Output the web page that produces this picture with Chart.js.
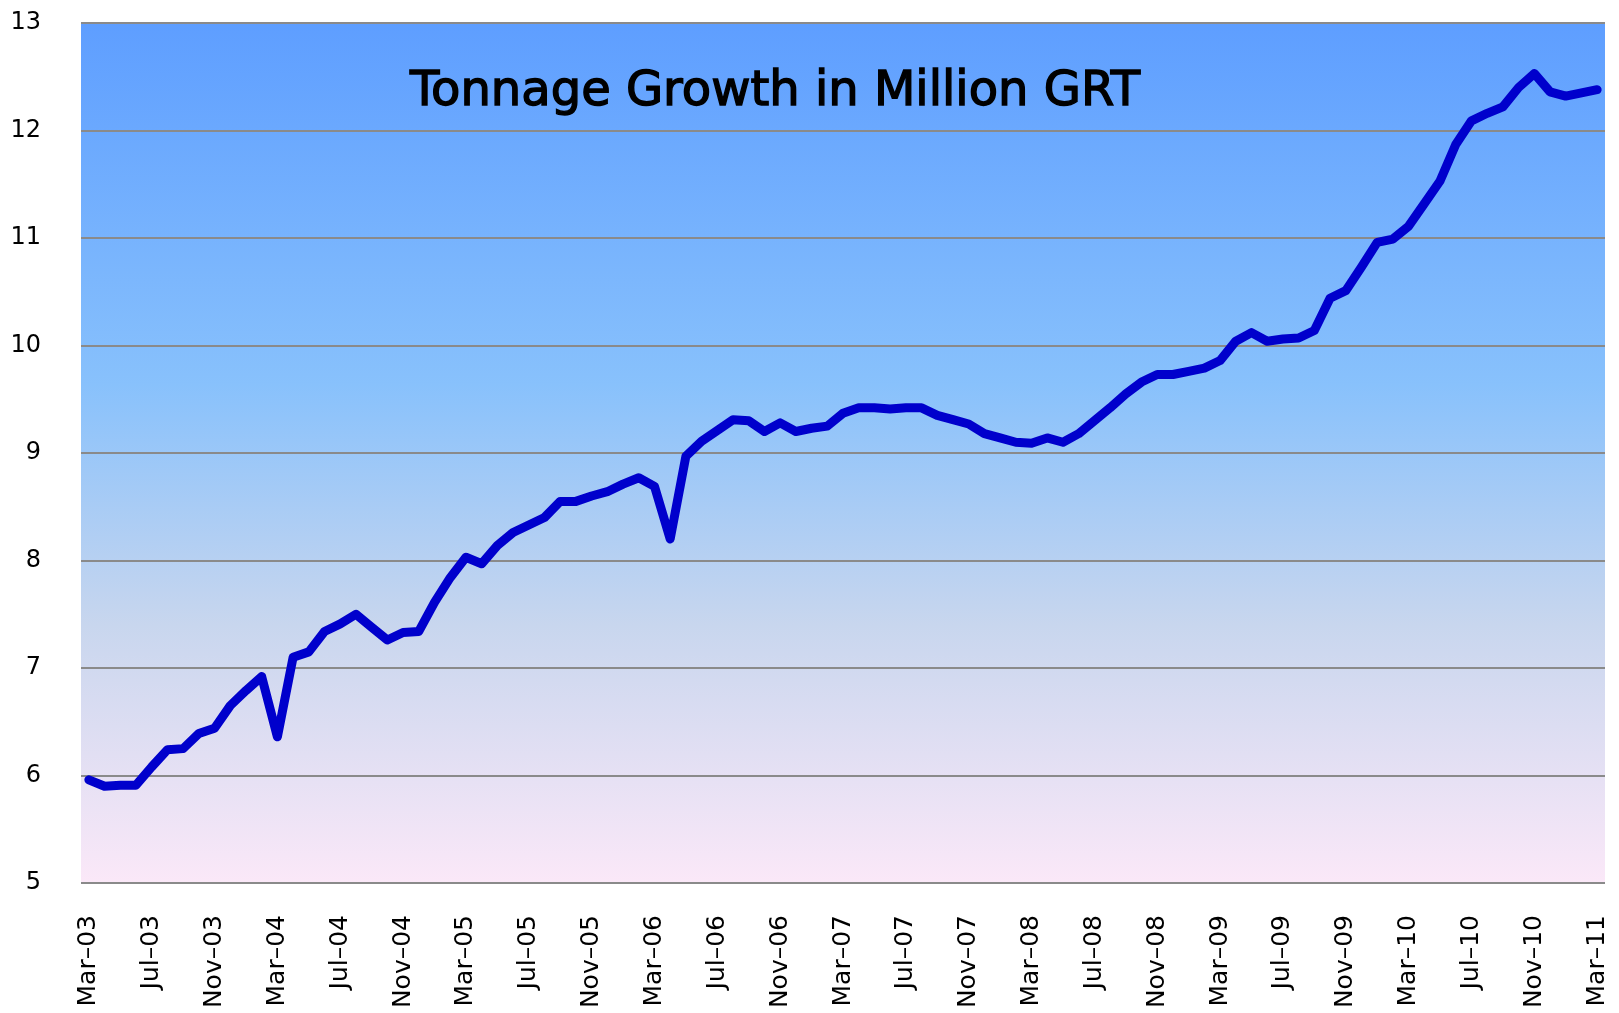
<!DOCTYPE html>
<html>
<head>
<meta charset="utf-8">
<title>Tonnage Growth</title>
<script src="https://cdn.jsdelivr.net/npm/chart.js@4"></script>
<style>
    html, body { margin: 0; padding: 0; background: #fff; }
    #wrap { width: 1619px; height: 1013px; }
</style>
</head>
<body>
<div id="wrap"><canvas id="myChart" width="1619" height="1013"></canvas></div>
<script>
// --- DATA ---
const months = [
    'Mar-03','Apr-03','May-03','Jun-03','Jul-03','Aug-03','Sep-03','Oct-03','Nov-03','Dec-03',
    'Jan-04','Feb-04','Mar-04','Apr-04','May-04','Jun-04','Jul-04','Aug-04','Sep-04','Oct-04','Nov-04','Dec-04',
    'Jan-05','Feb-05','Mar-05','Apr-05','May-05','Jun-05','Jul-05','Aug-05','Sep-05','Oct-05','Nov-05','Dec-05',
    'Jan-06','Feb-06','Mar-06','Apr-06','May-06','Jun-06','Jul-06','Aug-06','Sep-06','Oct-06','Nov-06','Dec-06',
    'Jan-07','Feb-07','Mar-07','Apr-07','May-07','Jun-07','Jul-07','Aug-07','Sep-07','Oct-07','Nov-07','Dec-07',
    'Jan-08','Feb-08','Mar-08','Apr-08','May-08','Jun-08','Jul-08','Aug-08','Sep-08','Oct-08','Nov-08','Dec-08',
    'Jan-09','Feb-09','Mar-09','Apr-09','May-09','Jun-09','Jul-09','Aug-09','Sep-09','Oct-09','Nov-09','Dec-09',
    'Jan-10','Feb-10','Mar-10','Apr-10','May-10','Jun-10','Jul-10','Aug-10','Sep-10','Oct-10','Nov-10','Dec-10',
    'Jan-11','Feb-11','Mar-11'
];

// million GRT
const tonnage = [
    5.96, 5.90, 5.91, 5.91, 6.08, 6.24, 6.25, 6.39, 6.44, 6.65,
    6.79, 6.92, 6.36, 7.10, 7.15, 7.34, 7.41, 7.50, 7.38, 7.26, 7.33, 7.34,
    7.61, 7.84, 8.03, 7.97, 8.14, 8.26, 8.33, 8.40, 8.55, 8.55, 8.60, 8.64,
    8.71, 8.77, 8.69, 8.20, 8.97, 9.11, 9.21, 9.31, 9.30, 9.20, 9.28, 9.20,
    9.23, 9.25, 9.37, 9.42, 9.42, 9.41, 9.42, 9.42, 9.35, 9.31, 9.27, 9.18,
    9.14, 9.10, 9.09, 9.14, 9.10, 9.18, 9.30, 9.42, 9.55, 9.66, 9.73, 9.73,
    9.76, 9.79, 9.86, 10.04, 10.12, 10.04, 10.06, 10.07, 10.14, 10.44, 10.51, 10.73,
    10.96, 10.99, 11.11, 11.32, 11.53, 11.87, 12.09, 12.16, 12.22, 12.40, 12.53, 12.36,
    12.32, 12.35, 12.38
];

const yMin = 5;
const yMax = 13;
const yStep = 1;
const chartTitle = 'Tonnage Growth in Million GRT';

// --- PLUGINS ---
// gradient fill behind the plot area (blue at top fading to pink)
const plotBackground = {
    id: 'plotBackground',
    beforeDraw(chart) {
        const { ctx, chartArea: a } = chart;
        const g = ctx.createLinearGradient(0, a.top, 0, a.bottom);
        g.addColorStop(0, 'rgb(94,158,255)');
        g.addColorStop(0.42, 'rgb(136,193,252)');
        g.addColorStop(0.7, 'rgb(200,214,238)');
        g.addColorStop(1, 'rgb(251,232,248)');
        ctx.save();
        ctx.fillStyle = g;
        ctx.fillRect(a.left, a.top, a.right - a.left, a.bottom - a.top);
        ctx.restore();
    }
};

// title sits inside the plot area
const innerTitle = {
    id: 'innerTitle',
    afterDatasetsDraw(chart) {
        const { ctx } = chart;
        ctx.save();
        ctx.font = '48px "DejaVu Sans"';
        ctx.fillStyle = '#000';
        ctx.strokeStyle = '#000';
        ctx.lineWidth = 1.4;   // a little heavier, like the original face
        ctx.textAlign = 'center';
        ctx.textBaseline = 'alphabetic';
        ctx.fillText(chartTitle, 775, 105);
        ctx.strokeText(chartTitle, 775, 105);
        ctx.restore();
    }
};

const ctx = document.getElementById('myChart');

new Chart(ctx, {
    type: 'line',
    data: {
        labels: months,
        datasets: [{
            data: tonnage,
            borderColor: '#0000CC',
            borderWidth: 9,
            borderJoinStyle: 'round',
            borderCapStyle: 'round',
            pointRadius: 0,
            tension: 0,
            fill: false
        }]
    },
    options: {
        responsive: false,
        animation: false,
        layout: { padding: { top: 23, right: 14, left: 0, bottom: 0 } },
        scales: {
            x: {
                offset: true,
                border: { display: false },
                grid: { display: false, drawTicks: false },
                afterFit: (scale) => {
                    scale.height = 130;
                    scale.paddingLeft = 0;
                    scale.paddingRight = 0;
                },
                ticks: {
                    autoSkip: false,
                    minRotation: 90,
                    maxRotation: 90,
                    padding: 32,
                    color: '#000',
                    font: { family: 'DejaVu Sans', size: 25 },
                    callback: function (value, index) {
                        return index % 4 === 0 ? months[index].replace('-', '\u2013') : '';
                    }
                }
            },
            y: {
                min: yMin,
                max: yMax,
                border: { display: false },
                grid: { color: '#8a8a8a', lineWidth: 2, drawTicks: false },
                afterFit: (scale) => {
                    scale.width = 81;
                    scale.paddingTop = 0;
                    scale.paddingBottom = 0;
                },
                ticks: {
                    stepSize: yStep,
                    padding: 40,
                    color: '#000',
                    font: { family: 'DejaVu Sans', size: 24 }
                }
            }
        },
        plugins: {
            legend: { display: false },
            tooltip: { enabled: false }
        }
    },
    plugins: [plotBackground, innerTitle]
});
</script>
</body>
</html>
